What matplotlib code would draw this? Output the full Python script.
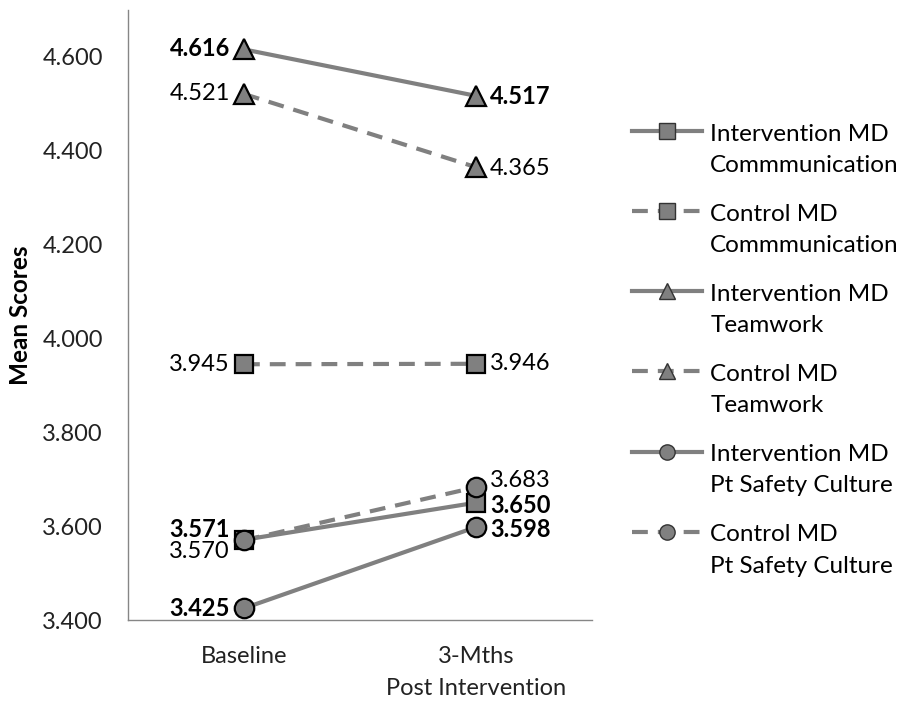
import numpy as np
import matplotlib.pyplot as plt
from matplotlib.lines import Line2D
from matplotlib.legend_handler import HandlerLine2D

plt.rcParams['font.family'] = ['Lato', 'DejaVu Sans']

# Mean scores at baseline and 3 months post intervention
timepoints = ['Baseline', '3-Mths\nPost Intervention']
series_names = ['Intervention MD\nCommmunication', 'Control MD\nCommmunication',
                'Intervention MD\nTeamwork', 'Control MD\nTeamwork',
                'Intervention MD\nPt Safety Culture', 'Control MD\nPt Safety Culture']
int_comm = [3.571, 3.650]
ctl_comm = [3.945, 3.946]
int_team = [4.616, 4.517]
ctl_team = [4.521, 4.365]
int_psc = [3.425, 3.598]
ctl_psc = [3.570, 3.683]
yticks = [3.4, 3.6, 3.8, 4.0, 4.2, 4.4, 4.6]

series = [int_comm, ctl_comm, int_team, ctl_team, int_psc, ctl_psc]
markers = ['s', 's', '^', '^', 'o', 'o']
dashed = (0, (3.8, 2.4))
styles = ['-', dashed, '-', dashed, '-', dashed]

# label offsets in pixels (baseline, 3-mths)
offsets = [((-14, 10), (14, -3)),
           ((-14, 0), (14, 0)),
           ((-14, 1), (14, -1)),
           ((-14, 0), (14, -1)),
           ((-14, 0), (14, -2)),
           ((-14, -11), (14, 7))]


class FirstLineHandler(HandlerLine2D):
    """Legend handle lined up with the first line of a two-line label."""
    def create_artists(self, *args, **kwargs):
        artists = super().create_artists(*args, **kwargs)
        for a in artists:
            a.set_ydata(np.asarray(a.get_ydata()) + 13.5)
        return artists


fs = 17
grey = '#808080'
fig = plt.figure(figsize=(9.05, 7.02), dpi=100)
ax = fig.add_axes([0.1414, 0.1168, 0.5127, 0.869])

x = [0, 1]
handles = []
for i, (vals, m, ls) in enumerate(zip(series, markers, styles)):
    ax.plot(x, vals, linestyle=ls, color=grey, lw=3, zorder=2)
    ax.plot(x, vals, linestyle='none', marker=m, ms=13 if m == 's' else 14,
            mfc=grey, mec='black', mew=1.6, zorder=3)
    handles.append(Line2D([], [], linestyle=ls, color=grey, lw=3, marker=m,
                          ms=11 if m != '^' else 12, mfc=grey, mec='#333333', mew=1.0))
    weight = 'bold' if i % 2 == 0 else 'normal'
    for j in range(2):
        ax.annotate(f'{vals[j]:.3f}', (x[j], vals[j]), xytext=offsets[i][j],
                    textcoords='offset pixels', ha='right' if j == 0 else 'left',
                    va='center', fontsize=fs, fontweight=weight, color='black')

ax.set_xlim(-0.5, 1.5)
ax.set_ylim(3.4, 4.7)
ax.set_xticks(x)
ax.set_xticklabels(timepoints, fontsize=fs, linespacing=1.6)
ax.set_yticks(yticks)
ax.set_yticklabels([f'{v:.3f}' for v in yticks], fontsize=fs)
ax.tick_params(axis='both', length=0, colors='#222222')
ax.tick_params(axis='x', pad=19)
ax.tick_params(axis='y', pad=18)
for side in ['top', 'right']:
    ax.spines[side].set_visible(False)
for side in ['left', 'bottom']:
    ax.spines[side].set_color('#868686')
    ax.spines[side].set_linewidth(1.0)
ax.set_ylabel('Mean Scores', fontsize=17.5, fontweight='bold', labelpad=7)

leg = fig.legend(handles, series_names, loc='upper left', bbox_to_anchor=(0.698, 0.824),
                 frameon=False, fontsize=17.5, handlelength=2.9, handletextpad=0.33,
                 labelspacing=1.15, borderpad=0, borderaxespad=0,
                 handler_map={Line2D: FirstLineHandler()})
for t in leg.get_texts():
    t.set_linespacing(1.6)

fig.savefig('out.png', dpi=100)
